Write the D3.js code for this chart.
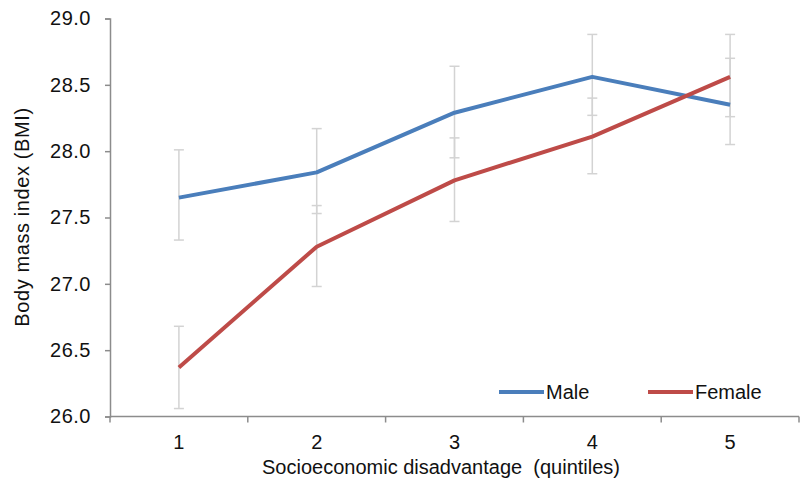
<!DOCTYPE html>
<html>
<head>
<meta charset="utf-8">
<script src="https://cdn.jsdelivr.net/npm/d3@7"></script>
<style>
	body { margin: 0; background: #fff; }
	text { font-family: "Liberation Sans", Arial, sans-serif; fill: #111; }
</style>
</head>
<body>
<svg id="chart"></svg>
<script>

// quintiles on the x axis
var quintiles = ['1', '2', '3', '4', '5']

// mean BMI
var maleBMI = [27.65, 27.84, 28.29, 28.56, 28.35]
var femaleBMI = [26.37, 27.28, 27.78, 28.11, 28.56]

// error bar ends (upper / lower)
var maleUpper = [28.01, 28.17, 28.64, 28.88, 28.70]
var maleLower = [27.33, 27.53, 27.95, 28.27, 28.05]
var femaleUpper = [26.68, 27.59, 28.10, 28.40, 28.88]
var femaleLower = [26.06, 26.98, 27.47, 27.83, 28.26]

var yTicks = [26.0, 26.5, 27.0, 27.5, 28.0, 28.5, 29.0]

var seriesNames = ['Male', 'Female']
var seriesColors = ['#4a7ebb', '#be4b48']

var width = 803;
var height = 496;

var svg = d3.select("#chart")
	.attr("width", width)
	.attr("height", height)

var x = d3.scaleBand().domain(quintiles).range([110, 799]).padding(0)
var y = d3.scaleLinear().domain([26, 29]).range([416.5, 18.5])

var axisColor = '#8c8c8c'

// y axis
var yAxis = d3.axisLeft(y)
	.tickValues(yTicks)
	.tickSize(5)
	.tickPadding(14)
	.tickFormat(d3.format('.1f'))

var gy = svg.append("g")
	.attr("transform", "translate(" + x.range()[0] + ",0)")
	.call(yAxis)

gy.select(".domain").attr("stroke", axisColor).attr("stroke-width", 1.5)
gy.selectAll(".tick line").attr("stroke", axisColor).attr("stroke-width", 1.5)
gy.selectAll(".tick text")
	.style("font-size", "20px")
	.style("font-family", '"Liberation Sans", Arial, sans-serif')
	.style("letter-spacing", "0.5px")
	.attr("fill", "#111")

// x axis: ticks at the band edges, labels in the middle
var gx = svg.append("g")

gx.append("line")
	.attr("x1", x.range()[0])
	.attr("x2", x.range()[1])
	.attr("y1", y(26))
	.attr("y2", y(26))
	.attr("stroke", axisColor)
	.attr("stroke-width", 1.5)

var edges = quintiles.map(q => x(q)).concat([x.range()[1]])

gx.selectAll(".edge")
	.data(edges)
	.enter()
	.append("line")
	.attr("class", "edge")
	.attr("x1", d => d)
	.attr("x2", d => d)
	.attr("y1", y(26))
	.attr("y2", y(26) + 6)
	.attr("stroke", axisColor)
	.attr("stroke-width", 1.5)

gx.selectAll(".qlabel")
	.data(quintiles)
	.enter()
	.append("text")
	.attr("class", "qlabel")
	.attr("x", d => x(d) + x.bandwidth() / 2)
	.attr("y", 449)
	.attr("text-anchor", "middle")
	.style("font-size", "20px")
	.text(d => d)

// axis titles
svg.append("text")
	.attr("x", 441)
	.attr("y", 474)
	.attr("text-anchor", "middle")
	.attr("xml:space", "preserve")
	.style("font-size", "20px")
	.text("Socioeconomic disadvantage  (quintiles)")

svg.append("text")
	.attr("transform", "translate(29,217) rotate(-90)")
	.attr("text-anchor", "middle")
	.style("font-size", "20px")
	.style("letter-spacing", "0.6px")
	.text("Body mass index (BMI)")

var cx = d => x(d) + x.bandwidth() / 2

// error bars, drawn behind the lines
function errorBars(upper, lower) {
	var g = svg.append("g")
	quintiles.forEach(function(q, i) {
		var px = cx(q)
		g.append("line")
			.attr("x1", px).attr("x2", px)
			.attr("y1", y(upper[i])).attr("y2", y(lower[i]))
			.attr("stroke", "#d3d3d3").attr("stroke-width", 1.5)
		g.append("line")
			.attr("x1", px - 5).attr("x2", px + 5)
			.attr("y1", y(upper[i])).attr("y2", y(upper[i]))
			.attr("stroke", "#d3d3d3").attr("stroke-width", 1.5)
		g.append("line")
			.attr("x1", px - 5).attr("x2", px + 5)
			.attr("y1", y(lower[i])).attr("y2", y(lower[i]))
			.attr("stroke", "#d3d3d3").attr("stroke-width", 1.5)
	})
}

errorBars(maleUpper, maleLower)
errorBars(femaleUpper, femaleLower)

var line = d3.line()
	.x((d, i) => cx(quintiles[i]))
	.y(d => y(d))

var allSeries = [maleBMI, femaleBMI]

for (let s = 0; s < allSeries.length; s++) {
	svg.append("path")
		.datum(allSeries[s])
		.attr("d", line)
		.attr("fill", "none")
		.attr("stroke", seriesColors[s])
		.attr("stroke-width", 4)
		.attr("stroke-linejoin", "round")
}

// legend
var legendX = [499, 648]

for (let s = 0; s < seriesNames.length; s++) {
	svg.append("line")
		.attr("x1", legendX[s])
		.attr("x2", legendX[s] + 45)
		.attr("y1", 392)
		.attr("y2", 392)
		.attr("stroke", seriesColors[s])
		.attr("stroke-width", 4)

	svg.append("text")
		.attr("x", legendX[s] + 47)
		.attr("y", 399)
		.style("font-size", "20px")
		.text(seriesNames[s])
}

</script>
</body>
</html>
